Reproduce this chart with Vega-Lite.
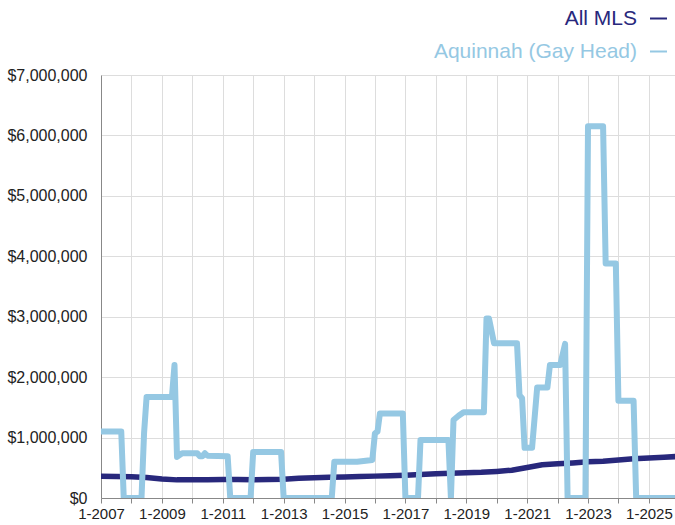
{
  "$schema": "https://vega.github.io/schema/vega-lite/v6.json",
  "width": 574,
  "height": 423,
  "autosize": {"type": "none"},
  "padding": {"left": 101, "top": 75, "right": 0, "bottom": 27},
  "background": "white",
  "config": {
    "view": {"stroke": null},
    "font": "Liberation Sans"
  },
  "datasets": {
    "mls": [
      {"date": "2007-01-01", "series": "All MLS", "price": 360000},
      {"date": "2007-07-01", "series": "All MLS", "price": 357000},
      {"date": "2008-01-01", "series": "All MLS", "price": 352000},
      {"date": "2008-07-01", "series": "All MLS", "price": 340000},
      {"date": "2009-01-01", "series": "All MLS", "price": 315000},
      {"date": "2009-07-01", "series": "All MLS", "price": 300000},
      {"date": "2010-01-01", "series": "All MLS", "price": 300000},
      {"date": "2010-07-01", "series": "All MLS", "price": 304000},
      {"date": "2011-01-01", "series": "All MLS", "price": 307000},
      {"date": "2011-07-01", "series": "All MLS", "price": 305000},
      {"date": "2012-01-01", "series": "All MLS", "price": 302000},
      {"date": "2012-07-01", "series": "All MLS", "price": 306000},
      {"date": "2013-01-01", "series": "All MLS", "price": 312000},
      {"date": "2013-07-01", "series": "All MLS", "price": 326000},
      {"date": "2014-01-01", "series": "All MLS", "price": 335000},
      {"date": "2014-07-01", "series": "All MLS", "price": 342000},
      {"date": "2015-01-01", "series": "All MLS", "price": 348000},
      {"date": "2015-07-01", "series": "All MLS", "price": 355000},
      {"date": "2016-01-01", "series": "All MLS", "price": 362000},
      {"date": "2016-07-01", "series": "All MLS", "price": 368000},
      {"date": "2017-01-01", "series": "All MLS", "price": 378000},
      {"date": "2017-07-01", "series": "All MLS", "price": 390000},
      {"date": "2018-01-01", "series": "All MLS", "price": 400000},
      {"date": "2018-07-01", "series": "All MLS", "price": 410000},
      {"date": "2019-01-01", "series": "All MLS", "price": 418000},
      {"date": "2019-07-01", "series": "All MLS", "price": 425000},
      {"date": "2020-01-01", "series": "All MLS", "price": 440000},
      {"date": "2020-07-01", "series": "All MLS", "price": 460000},
      {"date": "2021-01-01", "series": "All MLS", "price": 505000},
      {"date": "2021-07-01", "series": "All MLS", "price": 550000},
      {"date": "2022-01-01", "series": "All MLS", "price": 565000},
      {"date": "2022-07-01", "series": "All MLS", "price": 580000},
      {"date": "2023-01-01", "series": "All MLS", "price": 598000},
      {"date": "2023-07-01", "series": "All MLS", "price": 610000},
      {"date": "2024-01-01", "series": "All MLS", "price": 630000},
      {"date": "2024-07-01", "series": "All MLS", "price": 648000},
      {"date": "2025-01-01", "series": "All MLS", "price": 662000},
      {"date": "2025-07-01", "series": "All MLS", "price": 675000},
      {"date": "2025-11-15", "series": "All MLS", "price": 685000}
    ],
    "aq": [
      {"date": "2007-01-01", "series": "Aquinnah (Gay Head)", "price": 1100000},
      {"date": "2007-09-01", "series": "Aquinnah (Gay Head)", "price": 1100000},
      {"date": "2007-10-01", "series": "Aquinnah (Gay Head)", "price": 0},
      {"date": "2008-05-01", "series": "Aquinnah (Gay Head)", "price": 0},
      {"date": "2008-06-01", "series": "Aquinnah (Gay Head)", "price": 1080000},
      {"date": "2008-07-01", "series": "Aquinnah (Gay Head)", "price": 1670000},
      {"date": "2009-05-01", "series": "Aquinnah (Gay Head)", "price": 1670000},
      {"date": "2009-06-01", "series": "Aquinnah (Gay Head)", "price": 2200000},
      {"date": "2009-07-01", "series": "Aquinnah (Gay Head)", "price": 680000},
      {"date": "2009-09-01", "series": "Aquinnah (Gay Head)", "price": 740000},
      {"date": "2010-03-01", "series": "Aquinnah (Gay Head)", "price": 740000},
      {"date": "2010-04-01", "series": "Aquinnah (Gay Head)", "price": 690000},
      {"date": "2010-05-01", "series": "Aquinnah (Gay Head)", "price": 690000},
      {"date": "2010-06-01", "series": "Aquinnah (Gay Head)", "price": 740000},
      {"date": "2010-07-01", "series": "Aquinnah (Gay Head)", "price": 700000},
      {"date": "2011-03-01", "series": "Aquinnah (Gay Head)", "price": 690000},
      {"date": "2011-04-01", "series": "Aquinnah (Gay Head)", "price": 0},
      {"date": "2011-12-01", "series": "Aquinnah (Gay Head)", "price": 0},
      {"date": "2012-01-01", "series": "Aquinnah (Gay Head)", "price": 760000},
      {"date": "2012-12-01", "series": "Aquinnah (Gay Head)", "price": 760000},
      {"date": "2013-01-01", "series": "Aquinnah (Gay Head)", "price": 0},
      {"date": "2014-08-01", "series": "Aquinnah (Gay Head)", "price": 0},
      {"date": "2014-09-01", "series": "Aquinnah (Gay Head)", "price": 600000},
      {"date": "2015-06-01", "series": "Aquinnah (Gay Head)", "price": 600000},
      {"date": "2015-12-01", "series": "Aquinnah (Gay Head)", "price": 630000},
      {"date": "2016-01-01", "series": "Aquinnah (Gay Head)", "price": 1070000},
      {"date": "2016-02-01", "series": "Aquinnah (Gay Head)", "price": 1100000},
      {"date": "2016-03-01", "series": "Aquinnah (Gay Head)", "price": 1400000},
      {"date": "2016-12-01", "series": "Aquinnah (Gay Head)", "price": 1400000},
      {"date": "2017-01-01", "series": "Aquinnah (Gay Head)", "price": 0},
      {"date": "2017-06-01", "series": "Aquinnah (Gay Head)", "price": 0},
      {"date": "2017-07-01", "series": "Aquinnah (Gay Head)", "price": 960000},
      {"date": "2018-06-01", "series": "Aquinnah (Gay Head)", "price": 960000},
      {"date": "2018-07-01", "series": "Aquinnah (Gay Head)", "price": 0},
      {"date": "2018-08-01", "series": "Aquinnah (Gay Head)", "price": 1290000},
      {"date": "2018-10-01", "series": "Aquinnah (Gay Head)", "price": 1360000},
      {"date": "2018-12-01", "series": "Aquinnah (Gay Head)", "price": 1420000},
      {"date": "2019-08-01", "series": "Aquinnah (Gay Head)", "price": 1420000},
      {"date": "2019-09-01", "series": "Aquinnah (Gay Head)", "price": 2970000},
      {"date": "2019-10-01", "series": "Aquinnah (Gay Head)", "price": 2970000},
      {"date": "2019-12-01", "series": "Aquinnah (Gay Head)", "price": 2560000},
      {"date": "2020-09-01", "series": "Aquinnah (Gay Head)", "price": 2560000},
      {"date": "2020-10-01", "series": "Aquinnah (Gay Head)", "price": 1700000},
      {"date": "2020-11-01", "series": "Aquinnah (Gay Head)", "price": 1650000},
      {"date": "2020-12-01", "series": "Aquinnah (Gay Head)", "price": 830000},
      {"date": "2021-03-01", "series": "Aquinnah (Gay Head)", "price": 830000},
      {"date": "2021-05-01", "series": "Aquinnah (Gay Head)", "price": 1830000},
      {"date": "2021-09-01", "series": "Aquinnah (Gay Head)", "price": 1830000},
      {"date": "2021-10-01", "series": "Aquinnah (Gay Head)", "price": 2200000},
      {"date": "2022-02-01", "series": "Aquinnah (Gay Head)", "price": 2200000},
      {"date": "2022-04-01", "series": "Aquinnah (Gay Head)", "price": 2550000},
      {"date": "2022-05-01", "series": "Aquinnah (Gay Head)", "price": 0},
      {"date": "2022-12-01", "series": "Aquinnah (Gay Head)", "price": 0},
      {"date": "2023-01-01", "series": "Aquinnah (Gay Head)", "price": 6150000},
      {"date": "2023-07-01", "series": "Aquinnah (Gay Head)", "price": 6150000},
      {"date": "2023-08-01", "series": "Aquinnah (Gay Head)", "price": 3880000},
      {"date": "2023-12-01", "series": "Aquinnah (Gay Head)", "price": 3880000},
      {"date": "2024-01-01", "series": "Aquinnah (Gay Head)", "price": 1610000},
      {"date": "2024-07-01", "series": "Aquinnah (Gay Head)", "price": 1610000},
      {"date": "2024-08-01", "series": "Aquinnah (Gay Head)", "price": 0},
      {"date": "2025-11-15", "series": "Aquinnah (Gay Head)", "price": 0}
    ]
  },
  "encoding": {
    "x": {
      "field": "date",
      "type": "temporal",
      "scale": {
        "type": "utc",
        "domain": [
          {"year": 2007, "month": 1, "date": 1, "utc": true},
          {"year": 2025, "month": 11, "date": 10, "utc": true}
        ]
      },
      "axis": {
        "title": null,
        "tickCount": {"interval": "year", "step": 1},
        "labelExpr": "utcyear(datum.value) % 2 == 1 ? utcFormat(datum.value, '%-m-%Y') : ''",
        "labelFontSize": 15,
        "labelColor": "#222222",
        "labelPadding": 3,
        "labelFlush": false,
        "labelOverlap": false,
        "tickSize": 5,
        "tickColor": "#888888",
        "domainColor": "#888888",
        "gridColor": "#dddddd",
        "grid": true
      }
    },
    "y": {
      "field": "price",
      "type": "quantitative",
      "scale": {"domain": [0, 7000000], "nice": false},
      "axis": {
        "title": null,
        "values": [0, 1000000, 2000000, 3000000, 4000000, 5000000, 6000000, 7000000],
        "format": "$,.0f",
        "labelFontSize": 16,
        "labelColor": "#222222",
        "labelPadding": 14,
        "ticks": false,
        "domainColor": "#888888",
        "gridColor": "#dddddd",
        "grid": true
      }
    },
    "color": {
      "field": "series",
      "type": "nominal",
      "scale": {
        "domain": ["All MLS", "Aquinnah (Gay Head)"],
        "range": ["#28287c", "#95c8e3"]
      },
      "legend": {
        "title": null,
        "orient": "none",
        "legendX": 547,
        "legendY": -67,
        "padding": 0,
        "symbolType": "stroke",
        "symbolSize": 289,
        "symbolStrokeWidth": 2,
        "labelFontSize": 21,
        "labelAlign": "right",
        "labelOffset": -32,
        "rowPadding": 11,
        "labelLimit": 400,
        "encode": {
          "labels": {
            "update": {
              "fill": {"signal": "datum.value === 'All MLS' ? '#28287c' : '#95c8e3'"}
            }
          }
        }
      }
    }
  },
  "layer": [
    {
      "data": {"name": "mls"},
      "mark": {"type": "line", "strokeWidth": 5.5, "strokeJoin": "round", "clip": true}
    },
    {
      "data": {"name": "aq"},
      "mark": {"type": "line", "strokeWidth": 6, "strokeJoin": "round", "clip": true}
    }
  ]
}
